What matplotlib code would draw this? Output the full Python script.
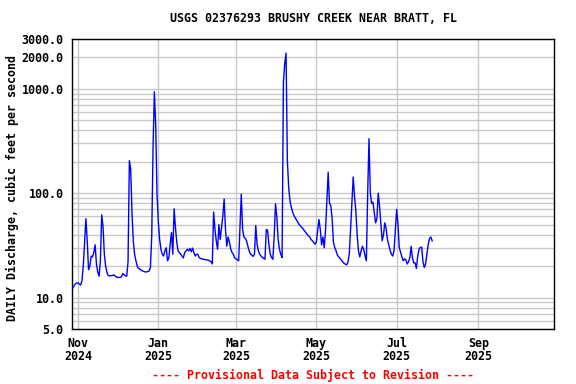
import matplotlib
matplotlib.use('Agg')
import matplotlib.pyplot as plt
import matplotlib.dates as mdates
from matplotlib.ticker import FixedLocator, NullFormatter
import pandas as pd

# Daily discharge, cubic feet per second, starting 2024-10-28
start_date = '2024-10-28'
flow = [
    12.3, 13.0, 13.5, 13.8, 13.8, 13.5, 13.2, 14.5, 20, 34,
    57, 35, 18.5, 20, 25, 24.5, 27, 32, 21, 17.5,
    16, 22.5, 62, 48, 26, 20, 17.4, 16.2, 16.2, 16.2,
    16.2, 16.5, 16.2, 15.8, 15.6, 15.6, 15.6, 15.8, 17, 16.5,
    16.2, 16, 22, 205, 170, 65, 35, 26, 22.5, 20,
    19, 18.7, 18.3, 18, 17.8, 17.6, 17.6, 17.8, 18, 19.4,
    39, 276, 935, 450, 100, 53, 36, 29, 26, 25,
    28, 30, 22.5, 24, 32.5, 42, 26, 71, 47, 34,
    28, 27, 26, 25, 24, 27, 28, 29, 28, 29.6,
    27.5, 29.8, 27, 25, 26, 26, 24.2, 23.7, 23.5, 23.3,
    23.2, 23, 23, 22.8, 22.5, 22, 21, 66, 45, 35,
    29, 50, 36, 47, 61, 88, 45, 31, 38, 34,
    29, 27, 26, 24, 23.5, 23, 22.5, 48, 98, 45,
    38, 37, 35, 31, 28, 26, 25.5, 24.8, 26, 49,
    32.5, 28, 26, 25, 24.2, 23.8, 23.3, 45, 44, 32,
    26, 24.2, 23.3, 39, 79, 59, 36, 29, 26, 24.2,
    1164, 1750, 2200, 205, 114, 84, 73, 66, 61, 58,
    55, 52.6, 50, 48.5, 47, 45.4, 43.5, 42, 40.5, 39,
    38, 36, 35, 33.8, 32.5, 33.8, 44, 56, 45, 32,
    38, 30, 45, 85, 159, 80, 76, 57, 34, 30,
    28, 25.5, 24.6, 23.7, 22.8, 22, 21.3, 20.9, 20.6, 21.7,
    26, 45, 82, 143, 93, 68, 40, 28, 24.5, 28,
    31, 29, 25, 22.5, 100, 333, 100, 80, 82, 65,
    52, 57, 100, 75, 52, 35, 40, 52, 46, 36,
    32, 28.5, 26, 25, 28, 44, 70, 50, 30, 27,
    24.5, 22.5, 23.5, 23, 21, 22, 24, 31, 24, 21.5,
    21.5, 19, 25, 29, 30.3, 30.3, 22, 19.4, 21, 26,
    32.5, 37, 38, 35,
]
dates = pd.date_range(start_date, periods=len(flow), freq='D')

x_ticks = ['2024-11-01', '2025-01-01', '2025-03-01', '2025-05-01', '2025-07-01', '2025-09-01']
x_labels = ['Nov\n2024', 'Jan\n2025', 'Mar\n2025', 'May\n2025', 'Jul\n2025', 'Sep\n2025']
y_major = [5, 10, 100, 1000, 2000, 3000]
y_labels = ['5.0', '10.0', '100.0', '1000.0', '2000.0', '3000.0']
y_minor = [6, 7, 8, 9, 20, 30, 40, 50, 60, 70, 80, 90,
           200, 300, 400, 500, 600, 700, 800, 900]

title = 'USGS 02376293 BRUSHY CREEK NEAR BRATT, FL'
ylabel = 'DAILY Discharge, cubic feet per second'
footer = '---- Provisional Data Subject to Revision ----'

font = {'family': 'DejaVu Sans Mono', 'weight': 'bold', 'size': 8.4}
grid_color = '#c8c8c8'

fig = plt.figure(figsize=(5.76, 3.84), dpi=100)
ax = fig.add_axes([72 / 576, 1 - 329 / 384, (554 - 72) / 576, (329 - 39) / 384])

ax.plot(dates, flow, color='#0000ff', linewidth=1.0, zorder=3)

ax.set_yscale('log')
ax.set_ylim(5, 3000)
ax.yaxis.set_major_locator(FixedLocator(y_major))
ax.yaxis.set_minor_locator(FixedLocator(y_minor))
ax.yaxis.set_minor_formatter(NullFormatter())
ax.set_yticklabels(y_labels, fontdict=font)

x_start = pd.Timestamp('2024-11-01') - pd.Timedelta(days=4.56)
x_end = pd.Timestamp('2024-11-01') + pd.Timedelta(days=361.5)
ax.set_xlim(x_start, x_end)
ax.set_xticks(pd.to_datetime(x_ticks))
ax.set_xticklabels(x_labels, fontdict=font, linespacing=1.0)

ax.grid(True, which='both', axis='y', color=grid_color, linewidth=1.0, zorder=0)
ax.grid(True, which='major', axis='x', color=grid_color, linewidth=1.0, zorder=0)
ax.set_axisbelow(True)

ax.tick_params(axis='both', which='both', length=0)
ax.tick_params(axis='y', pad=6)
ax.tick_params(axis='x', pad=6)
for s in ax.spines.values():
    s.set_linewidth(1.0)
    s.set_color('black')

fig.text(313 / 576, 1 - 19 / 384, title, ha='center', va='center', **font)
fig.text(12 / 576, 1 - 188 / 384, ylabel, ha='center', va='center', rotation=90, **font)
fig.text(313 / 576, 1 - 375 / 384, footer, ha='center', va='center', color='red', **font)

fig.savefig('out.png', dpi=100)
